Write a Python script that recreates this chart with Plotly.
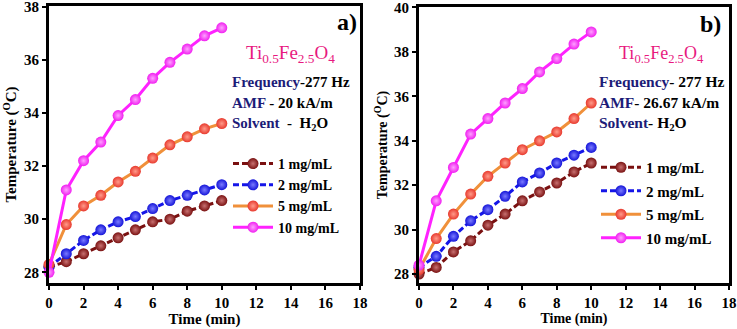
import plotly.graph_objects as go

time_min = [0, 1, 2, 3, 4, 5, 6, 7, 8, 9, 10]
labels = ["1 mg/mL", "2 mg/mL", "5 mg/mL", "10 mg/mL"]

# Panel a) AMF 20 kA/m
a_1 = [28.2, 28.4, 28.7, 29.0, 29.3, 29.6, 29.9, 30.0, 30.3, 30.5, 30.7]
a_2 = [28.2, 28.7, 29.2, 29.6, 29.9, 30.1, 30.4, 30.7, 30.9, 31.1, 31.3]
a_5 = [28.3, 29.8, 30.5, 30.9, 31.4, 31.8, 32.3, 32.8, 33.1, 33.4, 33.6]
a_10 = [28.0, 31.1, 32.2, 32.9, 33.9, 34.5, 35.3, 35.9, 36.4, 36.9, 37.2]

# Panel b) AMF 26.67 kA/m
b_1 = [28.0, 28.3, 29.0, 29.5, 30.2, 30.7, 31.3, 31.7, 32.1, 32.6, 33.0]
b_2 = [28.3, 28.8, 29.7, 30.4, 30.9, 31.5, 32.15, 32.55, 33.0, 33.35, 33.7]
b_5 = [28.2, 29.6, 30.7, 31.6, 32.4, 33.0, 33.6, 34.0, 34.4, 35.0, 35.7]
b_10 = [28.4, 31.3, 32.8, 34.3, 35.0, 35.7, 36.35, 37.1, 37.7, 38.35, 38.9]

x_ticks = [0, 2, 4, 6, 8, 10, 12, 14, 16, 18]

line_colors = ["#7a1010", "#1515e8", "#f0903a", "#ff22ff"]
marker_colors = ["#7a1212", "#1515d8", "#e83a2e", "#f020f0"]
marker_hilite = ["#c87070", "#7a7aff", "#ff9a8a", "#ffa0ff"]
dashes = ["6px,3px", "6px,3px", "solid", "solid"]

FONT = "Liberation Serif"
NAVY = "#1c1c78"
PINK = "#e8197f"

fig = go.Figure()

def add_series(ys_list, xa, ya, legend_name):
    for i, ys in enumerate(ys_list):
        fig.add_trace(go.Scatter(
            x=time_min, y=ys, name=labels[i], mode="lines+markers",
            xaxis=xa, yaxis=ya, legend=legend_name, legendgroup=legend_name + str(i),
            line=dict(color=line_colors[i], width=3, dash=dashes[i]),
            marker=dict(size=11, color=marker_colors[i],
                        gradient=dict(type="radial", color=marker_hilite[i]),
                        line=dict(width=0)),
            cliponaxis=False,
        ))

add_series([a_1, a_2, a_5, a_10], "x", "y", "legend")
add_series([b_1, b_2, b_5, b_10], "x2", "y2", "legend2")

axis_common = dict(
    showline=True, linewidth=3, linecolor="black", mirror=True,
    ticks="outside", ticklen=4, tickwidth=2, tickcolor="black",
    showgrid=False, zeroline=False, automargin=False,
    ticklabeloverflow="allow",
    tickfont=dict(family=FONT, size=15, color="black", weight="bold"),
)

fig.update_layout(
    width=737, height=329,
    margin=dict(l=0, r=0, t=0, b=0),
    paper_bgcolor="white", plot_bgcolor="white",
    font=dict(family=FONT, color="black"),
    xaxis=dict(domain=[49/737, 360/737], range=[0, 18], tickvals=x_ticks, anchor="y",
               title=dict(text="Time (min)", standoff=0,
                          font=dict(family=FONT, size=15, weight="bold")),
               **axis_common),
    yaxis=dict(domain=[1-283/329, 1-6/329], range=[27.6, 38.02], dtick=2, anchor="x",
               title=dict(text="Temperature (<sup>O</sup>C)", standoff=4,
                          font=dict(family=FONT, size=15, weight="bold")),
               **axis_common),
    xaxis2=dict(domain=[419/737, 729/737], range=[0, 18], tickvals=x_ticks, anchor="y2",
                title=dict(text="Time (min)", standoff=0,
                           font=dict(family=FONT, size=14, weight="bold")),
                **axis_common),
    yaxis2=dict(domain=[1-283/329, 1-7/329], range=[27.6, 40.02], dtick=2, anchor="x2",
                title=dict(text="Temperature (<sup>O</sup>C)", standoff=4,
                           font=dict(family=FONT, size=14, weight="bold")),
                **axis_common),
    legend=dict(x=228/737, y=1-148/329, xanchor="left", yanchor="top",
                bgcolor="rgba(0,0,0,0)", tracegroupgap=0, itemwidth=40,
                font=dict(family=FONT, size=14, color="black", weight="bold")),
    legend2=dict(x=596/737, y=1-151/329, xanchor="left", yanchor="top",
                 bgcolor="rgba(0,0,0,0)", tracegroupgap=1, itemwidth=40,
                 font=dict(family=FONT, size=15, color="black", weight="bold")),
)

def ann(text, x, y, size, color="black", bold=True, xanchor="left"):
    fig.add_annotation(text=text, x=x/737, y=1-y/329, xref="paper", yref="paper",
                       xanchor=xanchor, yanchor="middle", showarrow=False,
                       font=dict(family=FONT, size=size, color=color,
                                 weight="bold" if bold else "normal"))

formula = "Ti<sub>0.5</sub>Fe<sub>2.5</sub>O<sub>4</sub>"

# Panel a annotations
ann("a)", 359, 22, 24, xanchor="right")
ann(formula, 290, 54, 19, color=PINK, bold=False, xanchor="center")
ann(f"<span style='color:{NAVY}'>Frequency</span>-277 Hz", 230, 82, 15)
ann(f"<span style='color:{NAVY}'>AMF</span> - 20 kA/m", 230, 103, 15)
ann(f"<span style='color:{NAVY}'>Solvent</span>  -  H<sub>2</sub>O", 230, 124, 15)

# Panel b annotations
ann("b)", 723, 24, 24, xanchor="right")
ann(formula, 661, 55, 18, color=PINK, bold=False, xanchor="center")
ann(f"<span style='color:{NAVY}'>Frequency</span>- 277 Hz", 597, 81, 15.5)
ann(f"<span style='color:{NAVY}'>AMF</span>- 26.67 kA/m", 597, 102, 15.5)
ann(f"<span style='color:{NAVY}'>Solvent</span>- H<sub>2</sub>O", 597, 123, 15.5)

fig.write_html(
    "out.html",
    config={"displayModeBar": False},
    post_script="document.body.style.margin='0px';document.body.style.padding='0px';",
)
